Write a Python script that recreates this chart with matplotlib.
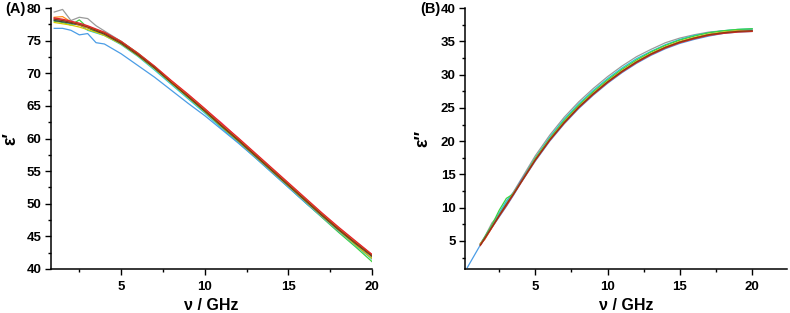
import matplotlib
matplotlib.use('Agg')
import matplotlib.pyplot as plt
from matplotlib.ticker import MultipleLocator

plt.rcParams['font.family'] = ['Liberation Sans', 'DejaVu Sans']
plt.rcParams['font.weight'] = 'bold'

# frequency grids (GHz)
nu_a = [1.0, 1.5, 2.0, 2.5, 3.0, 3.5, 4.0, 5, 6, 7, 8, 9, 10, 11, 12, 13, 14, 15, 16, 17, 18, 19, 20]
nu_b = [1.2, 1.5, 2.0, 2.5, 3.0, 3.5, 4.0, 5, 6, 7, 8, 9, 10, 11, 12, 13, 14, 15, 16, 17, 18, 19, 20]
nu_b_blue = [0.3] + nu_b

# real part eps' (panel A), one list per measurement
eps1_green = [78.0, 77.8, 77.4, 78.2, 77.0, 76.3, 76.3, 74.9, 73.1, 71.0, 68.6, 66.4, 64.1, 61.8, 59.5, 57.2, 54.9, 52.6, 50.2, 47.9, 45.6, 43.4, 41.1]
eps1_cyan = [78.2, 78.0, 77.6, 77.5, 76.6, 76.2, 75.8, 74.4, 72.6, 70.5, 68.3, 66.1, 63.9, 61.6, 59.4, 57.1, 54.8, 52.5, 50.2, 48.0, 45.8, 43.6, 41.5]
eps1_blue = [76.9, 76.9, 76.6, 75.9, 76.1, 74.7, 74.5, 73.0, 71.2, 69.4, 67.4, 65.4, 63.5, 61.4, 59.3, 57.1, 54.8, 52.5, 50.2, 48.0, 45.8, 43.7, 41.6]
eps1_grey = [79.4, 79.8, 78.1, 78.6, 78.4, 77.3, 76.5, 74.9, 73.0, 71.0, 68.7, 66.5, 64.3, 62.0, 59.8, 57.5, 55.2, 52.9, 50.6, 48.3, 46.1, 44.0, 42.0]
eps1_yellow = [77.8, 77.6, 77.4, 77.1, 76.7, 76.3, 75.8, 74.5, 72.7, 70.7, 68.5, 66.3, 64.1, 61.8, 59.6, 57.3, 55.0, 52.7, 50.4, 48.1, 45.9, 43.7, 41.6]
eps1_dark = [78.1, 77.9, 77.7, 77.4, 77.0, 76.5, 76.0, 74.6, 72.8, 70.8, 68.6, 66.4, 64.2, 61.9, 59.7, 57.4, 55.1, 52.8, 50.5, 48.2, 46.0, 43.9, 41.9]
eps1_pink = [78.4, 78.2, 77.9, 77.6, 77.2, 76.7, 76.2, 74.8, 73.0, 71.0, 68.8, 66.7, 64.5, 62.4, 60.0, 57.7, 55.4, 53.1, 50.8, 48.5, 46.3, 44.2, 42.2]
eps1_orange = [78.6, 78.7, 77.9, 77.4, 77.0, 76.7, 76.2, 74.8, 73.0, 71.0, 68.8, 66.6, 64.4, 62.1, 59.9, 57.6, 55.3, 53.0, 50.7, 48.4, 46.2, 44.1, 42.1]
eps1_red = [78.5, 78.3, 78.0, 77.7, 77.3, 76.8, 76.3, 74.9, 73.1, 71.1, 68.9, 66.8, 64.6, 62.3, 60.1, 57.8, 55.5, 53.2, 50.9, 48.6, 46.4, 44.3, 42.2]
eps1_brown = [78.3, 78.1, 77.8, 77.5, 77.1, 76.6, 76.1, 74.7, 72.9, 70.9, 68.6, 66.5, 64.3, 62.0, 59.8, 57.5, 55.2, 52.9, 50.6, 48.3, 46.1, 44.0, 42.0]

# imaginary part eps'' (panel B)
eps2_grey = [4.6, 5.6, 7.7, 9.0, 10.8, 12.4, 14.2, 17.8, 20.9, 23.6, 25.9, 27.9, 29.7, 31.3, 32.7, 33.8, 34.8, 35.5, 36.0, 36.4, 36.6, 36.7, 36.8]
eps2_cyan = [4.5, 5.5, 7.3, 9.2, 11.0, 12.3, 14.0, 17.5, 20.6, 23.3, 25.6, 27.6, 29.4, 31.0, 32.4, 33.5, 34.5, 35.3, 35.9, 36.3, 36.6, 36.8, 36.9]
eps2_green = [4.5, 5.6, 7.4, 9.6, 11.4, 12.1, 13.9, 17.4, 20.4, 23.1, 25.4, 27.4, 29.2, 30.8, 32.2, 33.4, 34.4, 35.2, 35.8, 36.3, 36.6, 36.8, 36.9]
eps2_yellow = [4.5, 5.4, 7.1, 8.9, 10.5, 12.1, 13.9, 17.3, 20.3, 22.9, 25.2, 27.2, 29.0, 30.6, 32.0, 33.2, 34.2, 35.0, 35.6, 36.1, 36.4, 36.6, 36.6]
eps2_blue = [1.0, 4.4, 5.3, 7.0, 8.6, 10.2, 11.9, 13.7, 17.0, 20.0, 22.6, 24.9, 26.9, 28.7, 30.3, 31.7, 32.9, 33.9, 34.7, 35.3, 35.8, 36.2, 36.4, 36.5]
eps2_purple = [4.4, 5.4, 7.1, 8.9, 10.5, 12.1, 14.0, 17.2, 20.2, 22.8, 25.1, 27.1, 28.9, 30.5, 31.9, 33.1, 34.1, 34.9, 35.5, 36.0, 36.3, 36.5, 36.6]
eps2_orange = [4.6, 5.2, 7.0, 8.8, 10.4, 12.2, 13.8, 17.2, 20.2, 22.8, 25.1, 27.1, 28.9, 30.5, 31.9, 33.1, 34.1, 34.9, 35.5, 36.0, 36.3, 36.5, 36.5]
eps2_red = [4.3, 5.3, 7.0, 8.7, 10.3, 12.0, 13.7, 17.1, 20.1, 22.7, 25.0, 27.0, 28.8, 30.4, 31.8, 33.0, 34.0, 34.8, 35.4, 35.9, 36.2, 36.4, 36.5]
eps2_brown = [4.4, 5.4, 7.1, 8.8, 10.5, 12.1, 13.8, 17.2, 20.2, 22.8, 25.1, 27.1, 28.9, 30.5, 31.9, 33.1, 34.1, 34.9, 35.5, 36.0, 36.3, 36.5, 36.6]

series_a = [
    (eps1_green, '#3fd13f'), (eps1_cyan, '#22c8d8'), (eps1_blue, '#4b9de6'),
    (eps1_grey, '#9a9a9a'), (eps1_yellow, '#d8c800'), (eps1_dark, '#404040'),
    (eps1_pink, '#ff5c9c'), (eps1_orange, '#ff8c1a'), (eps1_red, '#e3242b'),
    (eps1_brown, '#8b3a10'),
]
series_b = [
    (nu_b, eps2_grey, '#9a9a9a'), (nu_b, eps2_cyan, '#22c8d8'), (nu_b, eps2_green, '#3fd13f'),
    (nu_b, eps2_yellow, '#d8c800'), (nu_b_blue, eps2_blue, '#4b9de6'), (nu_b, eps2_purple, '#6a5acd'),
    (nu_b, eps2_orange, '#ff8c1a'), (nu_b, eps2_red, '#e3242b'), (nu_b, eps2_brown, '#8b3a10'),
]

fig = plt.figure(figsize=(7.9, 3.13), dpi=100)
ax_a = fig.add_axes([0.0646, 0.141, 0.4064, 0.833])
ax_b = fig.add_axes([0.589, 0.141, 0.407, 0.833])

for vals, col in series_a:
    ax_a.plot(nu_a, vals, color=col, lw=0.9)
for x, vals, col in series_b:
    ax_b.plot(x, vals, color=col, lw=0.9)

ax_a.set_xlim(0.81, 20)
ax_a.set_ylim(40, 80)
ax_b.set_xlim(0.16, 22.4)
ax_b.set_ylim(0.8, 40)

for ax in (ax_a, ax_b):
    ax.spines['top'].set_visible(False)
    ax.spines['right'].set_visible(False)
    for s in ('left', 'bottom'):
        ax.spines[s].set_linewidth(1.1)
    ax.xaxis.set_major_locator(MultipleLocator(5))
    ax.xaxis.set_minor_locator(MultipleLocator(2.5))
    ax.yaxis.set_major_locator(MultipleLocator(5))
    ax.yaxis.set_minor_locator(MultipleLocator(2.5))
    ax.tick_params(which='major', direction='out', length=4, width=1.0, labelsize=9.5, pad=3)
    ax.tick_params(which='minor', direction='out', length=2.5, width=1.0)
    ax.tick_params(axis='x', which='major', pad=5)
    for lab in ax.get_xticklabels() + ax.get_yticklabels():
        lab.set_fontweight('bold')
    ax.set_xlabel('ν / GHz', fontsize=11.5, fontweight='bold', labelpad=3)

ax_a.set_ylabel('ε′', fontsize=13, fontweight='bold', labelpad=5)
ax_b.set_ylabel('ε″', fontsize=13, fontweight='bold', labelpad=7)

fig.text(0.007, 0.97, '(A)', fontsize=10.5, fontweight='bold', va='center', ha='left')
fig.text(0.532, 0.97, '(B)', fontsize=10.5, fontweight='bold', va='center', ha='left')

fig.savefig('out.png', dpi=100, facecolor='white')
